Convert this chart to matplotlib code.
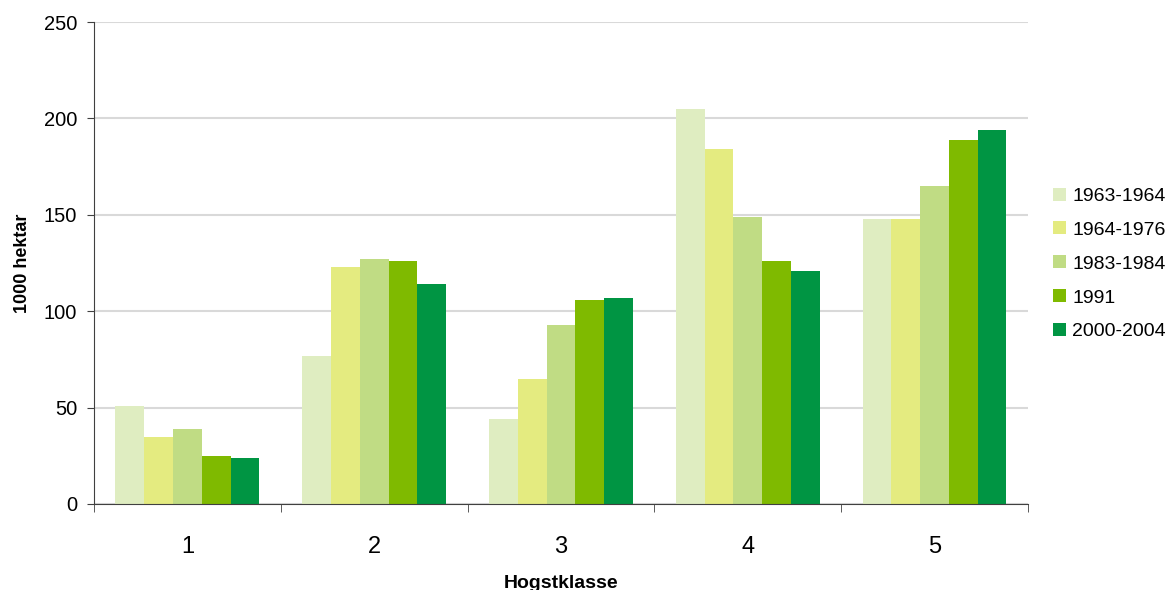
import matplotlib.pyplot as plt
import numpy as np

plt.rcParams['font.family'] = ['Liberation Sans', 'DejaVu Sans']

klasser = ['1', '2', '3', '4', '5']
perioder = ['1963-1964', '1964-1976', '1983-1984', '1991', '2000-2004']
v1963 = [51, 77, 44, 205, 148]
v1964 = [35, 123, 65, 184, 148]
v1983 = [39, 127, 93, 149, 165]
v1991 = [25, 126, 106, 126, 189]
v2000 = [24, 114, 107, 121, 194]
farger = ['#dfedc1', '#e4eb80', '#c0dc84', '#7fba00', '#009543']

serier = [v1963, v1964, v1983, v1991, v2000]

fig = plt.figure(figsize=(11.7, 5.9), dpi=100)
ax = fig.add_axes([0.0803, 0.1458, 0.7983, 0.8169])

x = np.arange(len(klasser))
w = 0.154
for i in range(len(serier)):
	ax.bar(x + (i - 2) * w, serier[i], w, color=farger[i], label=perioder[i], zorder=2)

ax.set_xlim(-0.5, 4.5)
ax.set_ylim(0, 250)
ax.set_yticks([0, 50, 100, 150, 200, 250])
ax.yaxis.grid(True, color='#d9d9d9', lw=1.5, zorder=0)
ax.set_xticks(x)
ax.set_xticklabels(klasser, fontsize=17)
ax.tick_params(axis='x', length=0, pad=23)
ax.set_xticks(np.arange(-0.5, 5, 1), minor=True)
ax.tick_params(axis='x', which='minor', length=6, color='#404040')
ax.tick_params(axis='y', labelsize=14.5, length=5, pad=7, color='#404040')

for s in ['top', 'right']:
	ax.spines[s].set_visible(False)
ax.spines['left'].set_color('#404040')
ax.spines['bottom'].set_color('#404040')

ax.set_ylabel('1000 hektar', fontsize=13, fontweight='bold', labelpad=9)
ax.set_xlabel('Hogstklasse', fontsize=14, fontweight='bold', labelpad=12)

ax.legend(loc='center left', bbox_to_anchor=(1053 / 1170, 1 - 264 / 590), bbox_transform=fig.transFigure,
	frameon=False, fontsize=14, borderpad=0, borderaxespad=0,
	handlelength=0.65, handleheight=0.65, handletextpad=0.35, labelspacing=0.85)

fig.savefig('out.png')
